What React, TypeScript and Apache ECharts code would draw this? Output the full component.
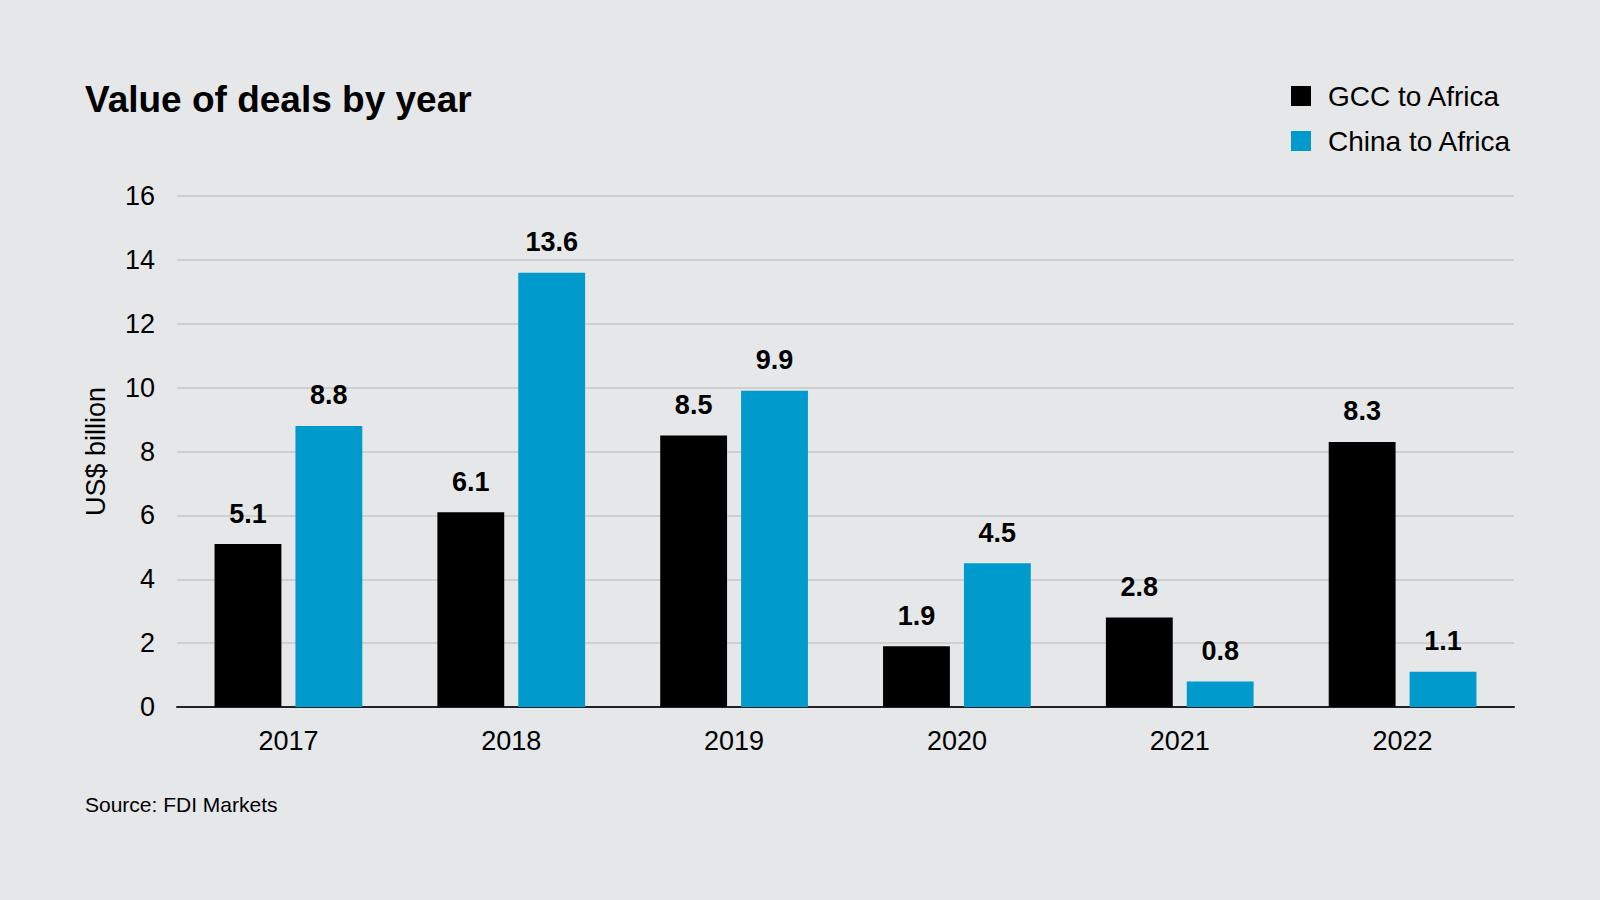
import React, { useEffect, useRef } from "react";
import * as echarts from "echarts";

const years = ["2017", "2018", "2019", "2020", "2021", "2022"];
const gccValues = [5.1, 6.1, 8.5, 1.9, 2.8, 8.3];
const chinaValues = [8.8, 13.6, 9.9, 4.5, 0.8, 1.1];
const seriesNames = ["GCC to Africa", "China to Africa"];

const FONT = "'Liberation Sans', Arial, sans-serif";

export default function App() {
  const ref = useRef<HTMLDivElement>(null);
  useEffect(() => {
    document.body.style.margin = "0";
    const chart = echarts.init(ref.current!, null, { renderer: "svg" });
    const labelStyle = {
      show: true,
      position: "top" as const,
      distance: 17,
      fontFamily: FONT,
      fontSize: 27,
      fontWeight: "bold" as const,
      color: "#000",
      formatter: (p: any) => Number(p.value).toFixed(1),
    };
    chart.setOption({
      animation: false,
      backgroundColor: "#e6e7e9",
      textStyle: { fontFamily: FONT },
      title: {
        text: "Value of deals by year",
        left: 80,
        top: 76,
        textStyle: { fontFamily: FONT, fontSize: 37, fontWeight: "bold", color: "#000" },
      },
      legend: {
        orient: "vertical",
        left: 1286,
        top: 77,
        itemWidth: 20,
        itemHeight: 20,
        itemGap: 17,
        icon: "rect",
        data: seriesNames,
        textStyle: { fontFamily: FONT, fontSize: 28, color: "#000", padding: [0, 0, 0, 12] },
      },
      grid: { left: 177, right: 86, top: 196, bottom: 193 },
      xAxis: {
        type: "category",
        data: years,
        axisLine: { lineStyle: { color: "#222", width: 2 } },
        axisTick: { show: false },
        axisLabel: { fontFamily: FONT, fontSize: 27, color: "#000", margin: 20 },
      },
      yAxis: {
        type: "value",
        min: 0,
        max: 16,
        interval: 2,
        name: "US$ billion",
        nameLocation: "middle",
        nameGap: 68,
        nameRotate: 90,
        nameTextStyle: { fontFamily: FONT, fontSize: 27, color: "#000" },
        axisLine: { show: false },
        axisTick: { show: false },
        axisLabel: { fontFamily: FONT, fontSize: 27, color: "#000", margin: 22 },
        splitLine: { lineStyle: { color: "#cfd0d2", width: 2 } },
      },
      series: [
        {
          name: seriesNames[0],
          type: "bar",
          data: gccValues,
          barWidth: "30%",
          barGap: "21%",
          itemStyle: { color: "#000000" },
          label: labelStyle,
        },
        {
          name: seriesNames[1],
          type: "bar",
          data: chinaValues,
          barWidth: "30%",
          barGap: "21%",
          itemStyle: { color: "#009bcc" },
          label: labelStyle,
        },
      ],
      graphic: [
        {
          type: "text",
          left: 85,
          top: 794,
          style: { text: "Source: FDI Markets", font: `21px ${FONT}`, fill: "#000" },
        },
      ],
    });
    return () => chart.dispose();
  }, []);
  return <div ref={ref} style={{ position: "absolute", left: 0, top: 0, width: 1600, height: 900 }} />;
}
